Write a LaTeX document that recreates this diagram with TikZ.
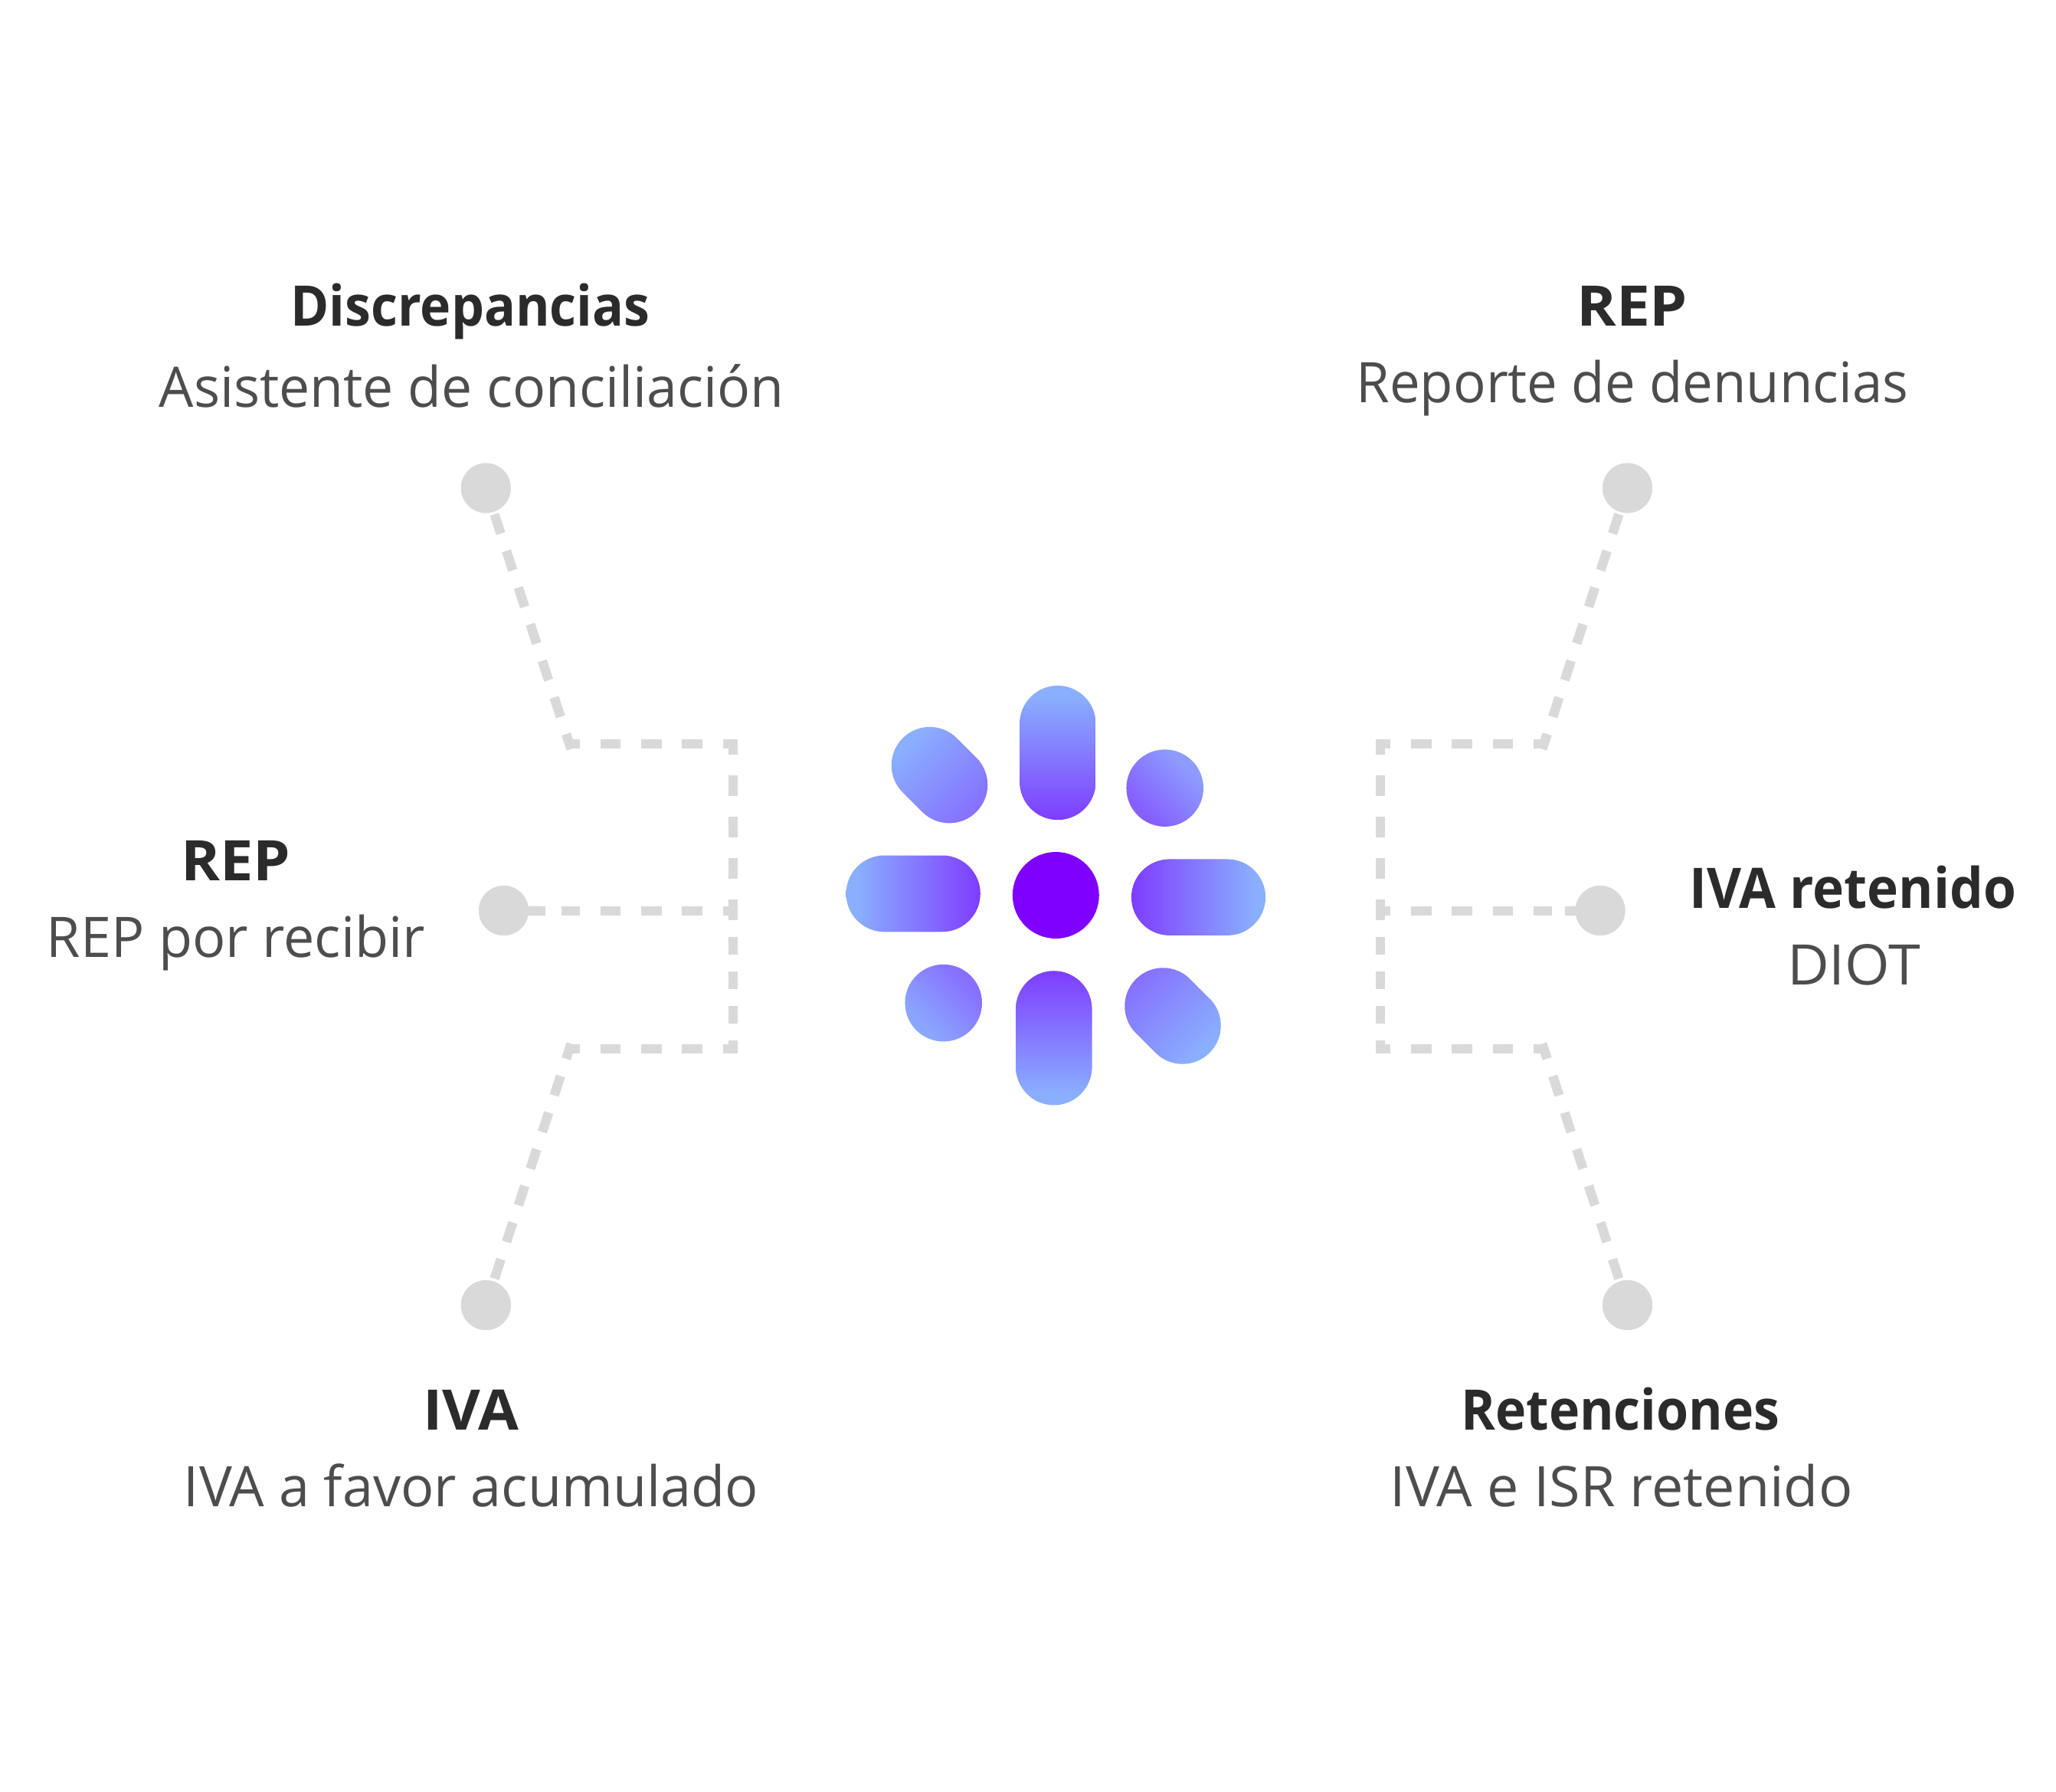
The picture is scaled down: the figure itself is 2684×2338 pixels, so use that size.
\documentclass[tikz,border=0pt]{standalone}
\usepackage{graphicx}
\usepackage{fontspec}
\setmainfont{Open Sans}
\definecolor{clrL}{HTML}{8AAFFF}
\definecolor{clrD}{HTML}{7E3AFF}
\definecolor{clrDd}{HTML}{8458FF}
\definecolor{clrCa}{HTML}{8E9CFF}
\definecolor{clrCb}{HTML}{8560FF}
\definecolor{clrEa}{HTML}{8AA6FF}
\definecolor{clrEb}{HTML}{8870FF}
\definecolor{dotgray}{HTML}{D9D9D9}
\definecolor{titlecol}{HTML}{2B2B2B}
\definecolor{subcol}{HTML}{4D4D4D}
\pgfdeclarehorizontalshading{pillstraight}{100bp}{color(0bp)=(clrL); color(29bp)=(clrL); color(76bp)=(clrD); color(100bp)=(clrD)}
\pgfdeclarehorizontalshading{pilldiag}{100bp}{color(0bp)=(clrL); color(32bp)=(clrL); color(85bp)=(clrDd); color(100bp)=(clrDd)}
\pgfdeclarehorizontalshading{circtr}{100bp}{color(0bp)=(clrCa); color(30bp)=(clrCa); color(70bp)=(clrCb); color(100bp)=(clrCb)}
\pgfdeclarehorizontalshading{circbl}{100bp}{color(0bp)=(clrEa); color(30bp)=(clrEa); color(70bp)=(clrEb); color(100bp)=(clrEb)}
\newcommand{\fittext}[2]{\resizebox{#1pt}{\height}{#2}}
\tikzset{
  x=1pt,y=-1pt,
  enddot/.style={circle,fill=dotgray,draw=none,inner sep=0pt,minimum size=65pt},
  dashbase/.style={draw=dotgray,line width=12.4pt,line cap=butt},
  dashh/.style={dashbase,dash pattern=on 26.7pt off 26.6pt,dash phase=7.3pt},
  dashup/.style={dashbase,dash pattern=on 26.7pt off 27.3pt,dash phase=6.8pt},
  dashlo/.style={dashbase,dash pattern=on 23.5pt off 21.5pt,dash phase=6pt},
  dashd/.style={dashbase,dash pattern=on 26.6pt off 23.7pt,dash phase=6pt},
  solidseg/.style={dashbase},
  titletext/.style={anchor=base,inner sep=0pt,text=titlecol,font=\fontsize{73}{80}\selectfont\bfseries},
  subtext/.style={anchor=base,inner sep=0pt,text=subcol,font=\fontsize{73}{80}\selectfont},
  pillshape/.style={rounded corners=49.9pt},
}
\begin{document}
\begin{tikzpicture}
\useasboundingbox (0,0) rectangle (2684,2338);
% junction and bend coordinates
\coordinate (lt) at (956.8,964.8);
\coordinate (lm) at (956.8,1189);
\coordinate (lb) at (956.8,1375.4);
\coordinate (rt) at (1802,964.8);
\coordinate (rm) at (1802,1189);
\coordinate (rb) at (1802,1375.4);
\coordinate (lth) at (963,971);
\coordinate (lmh) at (963,1189);
\coordinate (lbh) at (963,1369);
\coordinate (rth) at (1796,971);
\coordinate (rmh) at (1796,1189);
\coordinate (rbh) at (1796,1369);
\coordinate (ltc) at (739.5,971);
\coordinate (lbc) at (739.5,1369);
\coordinate (rtc) at (2019.3,971);
\coordinate (rbc) at (2019.3,1369);
\coordinate (ltd) at (745.5,977.7);
\coordinate (lbd) at (745.5,1362.3);
\coordinate (rtd) at (2013.3,977.7);
\coordinate (rbd) at (2013.3,1362.3);
\coordinate (lma) at (733,1189);
\coordinate (lmb) at (712,1189);
\coordinate (rma) at (2026,1189);
\coordinate (rmb) at (2043,1189);
% end dots
\node[enddot] (dtl) at (634.3,637) {};
\node[enddot] (dl) at (657.5,1188.5) {};
\node[enddot] (dbl) at (634.3,1703.5) {};
\node[enddot] (dtr) at (2124.5,637) {};
\node[enddot] (dr) at (2089,1188.5) {};
\node[enddot] (dbr) at (2124.5,1703.5) {};
% connectors
\draw[dashd] (ltd) -- (dtl.center);
\draw[dashd] (lbd) -- (dbl.center);
\draw[dashd] (rtd) -- (dtr.center);
\draw[dashd] (rbd) -- (dbr.center);
\draw[dashh] (lth) -- (ltc);
\draw[dashh] (lmh) -- (lma);
\draw[dashh] (lbh) -- (lbc);
\draw[dashh] (rth) -- (rtc);
\draw[dashh] (rmh) -- (rma);
\draw[dashh] (rbh) -- (rbc);
\draw[solidseg] (lmb) -- (dl.center);
\draw[solidseg] (rmb) -- (dr.center);
\draw[dashup] (lt) -- (lm);
\draw[dashup] (rt) -- (rm);
\draw[dashlo] (lb) -- (lm);
\draw[dashlo] (rb) -- (rm);
% dots on top of the connectors
\node[enddot] at (dtl.center) {};
\node[enddot] at (dl.center) {};
\node[enddot] at (dbl.center) {};
\node[enddot] at (dtr.center) {};
\node[enddot] at (dr.center) {};
\node[enddot] at (dbr.center) {};
% central mark
\fill[color={rgb,255:red,128;green,0;blue,255}] (1378.3,1168.5) circle[radius=56.5];
\path[pillshape,shading=pillstraight,shading angle=270] (1331,894.9) rectangle (1430.6,1070.2);
\path[pillshape,shading=pillstraight,shading angle=90] (1326,1267.2) rectangle (1425.6,1442.5);
\path[pillshape,shading=pillstraight,shading angle=0] (1104.5,1116.5) rectangle (1279.8,1216.3);
\path[pillshape,shading=pillstraight,shading angle=180] (1476.9,1121.4) rectangle (1652.1,1220.9);
\path[pillshape,shading=pilldiag,shading angle=315,rotate around={-45:(1226.5,1011.6)}] (1226.5-68,1011.6-50) rectangle (1226.5+68,1011.6+50);
\path[pillshape,shading=pilldiag,shading angle=135,rotate around={-45:(1531,1326)}] (1531-68,1326-50) rectangle (1531+68,1326+50);
\path[shading=circtr,shading angle=225] (1520.7,1028.6) circle[radius=50.3];
\path[shading=circbl,shading angle=45] (1231.7,1309.1) circle[radius=50.3];
% labels
\node[titletext] (t1) at (614,425) {\fittext{469}{Discrepancias}};
\node[subtext] (s1) at (615.8,531) {\fittext{816}{Asistente de conciliación}};
\node[titletext] (t2) at (2130.7,425.7) {\fittext{145}{REP}};
\node[subtext] (s2) at (2131,525.7) {\fittext{721}{Reporte de denuncias}};
\node[titletext] (t3) at (307.5,1149.7) {\fittext{143}{REP}};
\node[subtext] (s3) at (307.8,1249.7) {\fittext{494}{REP por recibir}};
\node[titletext] (t4) at (2418.8,1185.7) {\fittext{427}{IVA retenido}};
\node[subtext] (s4) at (2420,1285.7) {\fittext{174}{DIOT}};
\node[titletext] (t5) at (615,1866) {\fittext{125}{IVA}};
\node[subtext] (s5) at (615,1966) {\fittext{750}{IVA a favor acumulado}};
\node[titletext] (t6) at (2115.4,1866) {\fittext{416}{Retenciones}};
\node[subtext] (s6) at (2116.5,1966) {\fittext{604}{IVA e ISR retenido}};
\end{tikzpicture}
\end{document}
